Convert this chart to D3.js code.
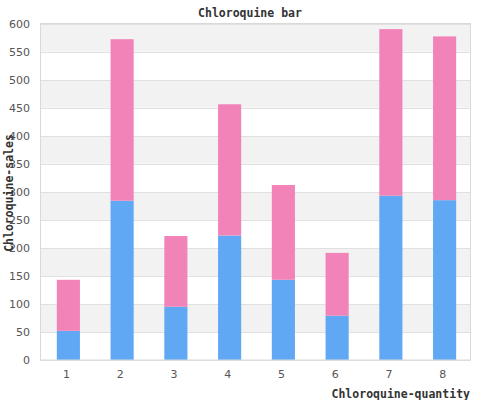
<!DOCTYPE html>
<html lang="en">
  <head>
    <meta charset="UTF-8" />
    <title>Chloroquine bar</title>
    <script src="https://d3js.org/d3.v7.min.js"></script>
    <style>
      body {
        margin: 0;
        background: #fff;
      }
    </style>
  </head>
  <body>
    <svg id="chart" width="500" height="400"></svg>
    <script>
      const categories = ["1", "2", "3", "4", "5", "6", "7", "8"];
      const lowerValues = [52, 284, 95, 222, 143, 79, 293, 285];
      const upperValues = [91, 288, 126, 234, 169, 112, 297, 292];
      const yTicks = [0, 50, 100, 150, 200, 250, 300, 350, 400, 450, 500, 550, 600];

      const svg = d3.select("#chart");
      const margin = { top: 23.5, right: 29.5, bottom: 40, left: 40.5 };
      const width = 500 - margin.left - margin.right,
        height = 400 - margin.top - margin.bottom;

      const x = d3
        .scaleBand()
        .domain(categories)
        .range([margin.left + 1, margin.left + width + 1])
        .paddingInner(0.57)
        .paddingOuter(0.285);
      const y = d3
        .scaleLinear()
        .domain([0, 600])
        .range([margin.top + height, margin.top]);

      // alternating bands
      const bands = d3.range(0, 600, 50);
      svg
        .selectAll("rect.band")
        .data(bands)
        .enter()
        .append("rect")
        .attr("class", "band")
        .attr("x", margin.left)
        .attr("width", width)
        .attr("y", (d) => y(d + 50))
        .attr("height", (d) => y(d) - y(d + 50))
        .attr("fill", (d) => ((d / 50) % 2 === 1 ? "#f2f2f2" : "#ffffff"));

      // grid lines
      svg
        .selectAll("line.grid")
        .data(yTicks)
        .enter()
        .append("line")
        .attr("x1", margin.left)
        .attr("x2", margin.left + width)
        .attr("y1", (d) => Math.round(y(d)) + 0.5)
        .attr("y2", (d) => Math.round(y(d)) + 0.5)
        .attr("stroke", "#e0e0e0");

      // stacked bars
      const stacked = categories.map((c, i) => ({
        cat: c,
        low: lowerValues[i],
        high: upperValues[i],
      }));

      svg
        .selectAll("rect.low")
        .data(stacked)
        .enter()
        .append("rect")
        .attr("x", (d) => x(d.cat))
        .attr("width", x.bandwidth())
        .attr("y", (d) => y(d.low))
        .attr("height", (d) => y(0) - y(d.low))
        .attr("fill", "#60a8f4");

      svg
        .selectAll("rect.high")
        .data(stacked)
        .enter()
        .append("rect")
        .attr("x", (d) => x(d.cat))
        .attr("width", x.bandwidth())
        .attr("y", (d) => y(d.low + d.high))
        .attr("height", (d) => y(d.low) - y(d.low + d.high))
        .attr("fill", "#f283b9");

      // frame
      svg
        .append("rect")
        .attr("x", margin.left)
        .attr("y", margin.top)
        .attr("width", width)
        .attr("height", height)
        .attr("fill", "none")
        .attr("stroke", "#d9d9d9");

      // y tick labels
      svg
        .selectAll("text.ytick")
        .data(yTicks)
        .enter()
        .append("text")
        .attr("x", 30)
        .attr("y", (d) => y(d) + 4)
        .attr("text-anchor", "end")
        .attr("font-family", "DejaVu Sans")
        .attr("font-size", 11)
        .attr("fill", "#555")
        .text((d) => d);

      // x tick labels
      svg
        .selectAll("text.xtick")
        .data(categories)
        .enter()
        .append("text")
        .attr("x", (d) => x(d) + x.bandwidth() / 2 - 2)
        .attr("y", 378)
        .attr("text-anchor", "middle")
        .attr("font-family", "DejaVu Sans")
        .attr("font-size", 11)
        .attr("fill", "#555")
        .text((d) => d);

      const labelFont = "DejaVu Sans Mono";

      svg
        .append("text")
        .attr("x", 250)
        .attr("y", 17)
        .attr("text-anchor", "middle")
        .attr("font-family", labelFont)
        .attr("font-weight", "bold")
        .attr("font-size", 11.5)
        .attr("fill", "#333")
        .text("Chloroquine bar");

      svg
        .append("text")
        .attr("x", 470)
        .attr("y", 398)
        .attr("text-anchor", "end")
        .attr("font-family", labelFont)
        .attr("font-weight", "bold")
        .attr("font-size", 11.5)
        .attr("fill", "#333")
        .text("Chloroquine-quantity");

      svg
        .append("text")
        .attr("transform", "translate(13,193) rotate(-90)")
        .attr("text-anchor", "middle")
        .attr("font-family", labelFont)
        .attr("font-weight", "bold")
        .attr("font-size", 11.5)
        .attr("fill", "#333")
        .text("Chloroquine-sales");
    </script>
  </body>
</html>
